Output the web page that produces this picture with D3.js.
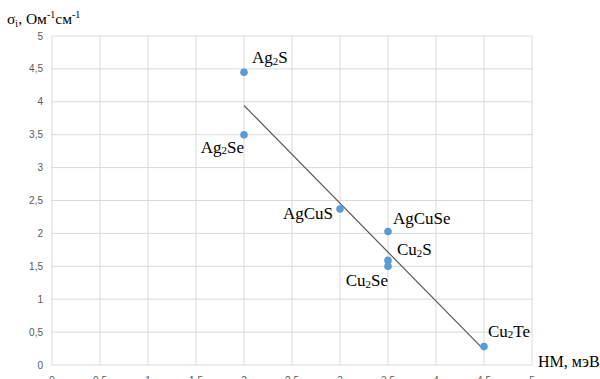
<!DOCTYPE html>
<html>
<head>
<meta charset="utf-8">
<script src="https://cdn.jsdelivr.net/npm/d3@7"></script>
<style>
  body { margin: 0; background: #fff; }
  svg { display: block; }
</style>
</head>
<body>
<svg width="600" height="379"></svg>
<script>
// data
var compounds = ["Ag2S", "Ag2Se", "AgCuS", "AgCuSe", "Cu2S", "Cu2Se", "Cu2Te"];
var hm = [2, 2, 3, 3.5, 3.5, 3.5, 4.5];
var sigma = [4.45, 3.5, 2.37, 2.03, 1.59, 1.5, 0.28];
var xTicks = [0, 0.5, 1, 1.5, 2, 2.5, 3, 3.5, 4, 4.5, 5];
var yTicks = [0, 0.5, 1, 1.5, 2, 2.5, 3, 3.5, 4, 4.5, 5];

// label offsets relative to the point (dx, dy to baseline), anchor
var labelPos = {
  "Ag2S":   [8, -9, "start"],
  "Ag2Se":  [0, 18, "end"],
  "AgCuS":  [-7, 10, "end"],
  "AgCuSe": [5, -7, "start"],
  "Cu2S":   [9, -5, "start"],
  "Cu2Se":  [0, 20, "end"],
  "Cu2Te":  [4, -10, "start"]
};

var svg = d3.select("svg");
var pLeft = 52, pRight = 532, pTop = 36, pBottom = 365;

var x = d3.scaleLinear().domain([0, 5]).range([pLeft, pRight]);
var y = d3.scaleLinear().domain([0, 5]).range([pBottom, pTop]);

var fmt = function(d) { return String(d).replace(".", ","); };

// grid
svg.append("g").selectAll("line")
  .data(xTicks).enter().append("line")
    .attr("x1", d => x(d)).attr("x2", d => x(d))
    .attr("y1", pTop).attr("y2", pBottom)
    .attr("stroke", "#d9d9d9").attr("stroke-width", 1);
svg.append("g").selectAll("line")
  .data(yTicks).enter().append("line")
    .attr("x1", pLeft).attr("x2", pRight)
    .attr("y1", d => y(d)).attr("y2", d => y(d))
    .attr("stroke", "#d9d9d9").attr("stroke-width", 1);

// y tick labels
svg.append("g").selectAll("text")
  .data(yTicks).enter().append("text")
    .attr("x", pLeft - 9).attr("y", d => y(d) + 3.5)
    .attr("text-anchor", "end")
    .attr("font-family", "Liberation Sans, Arial, sans-serif")
    .attr("font-size", 10)
    .attr("fill", "#595959")
    .text(fmt);

// x tick labels (cut off at the bottom edge)
svg.append("g").selectAll("text")
  .data(xTicks).enter().append("text")
    .attr("x", d => x(d)).attr("y", 384)
    .attr("text-anchor", "middle")
    .attr("font-family", "Liberation Sans, Arial, sans-serif")
    .attr("font-size", 10)
    .attr("fill", "#595959")
    .text(fmt);

// linear trend line
var mx = d3.mean(hm), my = d3.mean(sigma);
var sxy = d3.sum(hm, (v, i) => (v - mx) * (sigma[i] - my));
var sxx = d3.sum(hm, v => (v - mx) * (v - mx));
var slope = sxy / sxx, icpt = my - slope * mx;
var x0 = d3.min(hm), x1 = d3.max(hm);
svg.append("line")
  .attr("x1", x(x0)).attr("y1", y(icpt + slope * x0))
  .attr("x2", x(x1)).attr("y2", y(icpt + slope * x1))
  .attr("stroke", "#595959").attr("stroke-width", 1.2);

// points
var pts = compounds.map((c, i) => ({name: c, hm: hm[i], s: sigma[i]}));
svg.append("g").selectAll("circle")
  .data(pts).enter().append("circle")
    .attr("cx", d => x(d.hm)).attr("cy", d => y(d.s))
    .attr("r", 3.8)
    .attr("fill", "#5b9bd5");

// point labels with subscripts
var lbl = svg.append("g").selectAll("text")
  .data(pts).enter().append("text")
    .attr("x", d => x(d.hm) + labelPos[d.name][0])
    .attr("y", d => y(d.s) + labelPos[d.name][1])
    .attr("text-anchor", d => labelPos[d.name][2])
    .attr("font-family", "Liberation Serif, Times New Roman, serif")
    .attr("font-size", 17)
    .attr("fill", "#000");
lbl.each(function(d) {
  var t = d3.select(this);
  var shift = 0;
  d.name.split(/(\d)/).forEach(function(part) {
    if (!part) return;
    if (/\d/.test(part)) {
      t.append("tspan").attr("font-size", 11).attr("dy", 1.5).text(part);
      shift = -1.5;
    } else {
      t.append("tspan").attr("dy", shift).text(part);
      shift = 0;
    }
  });
});

// y axis title
var yt = svg.append("text")
  .attr("x", 7).attr("y", 24)
  .attr("font-family", "Liberation Serif, Times New Roman, serif")
  .attr("font-size", 15.5).attr("fill", "#000");
yt.append("tspan").text("σ");
yt.append("tspan").attr("font-size", 10).attr("dy", 3).text("i");
yt.append("tspan").attr("dy", -3).text(", Ом");
yt.append("tspan").attr("font-size", 10).attr("dy", -6).text("-1");
yt.append("tspan").attr("dy", 6).text("см");
yt.append("tspan").attr("font-size", 10).attr("dy", -6).text("-1");

// x axis title
svg.append("text")
  .attr("x", 538).attr("y", 367)
  .attr("font-family", "Liberation Serif, Times New Roman, serif")
  .attr("font-size", 16).attr("fill", "#000")
  .text("НМ, мэВ");
</script>
</body>
</html>
